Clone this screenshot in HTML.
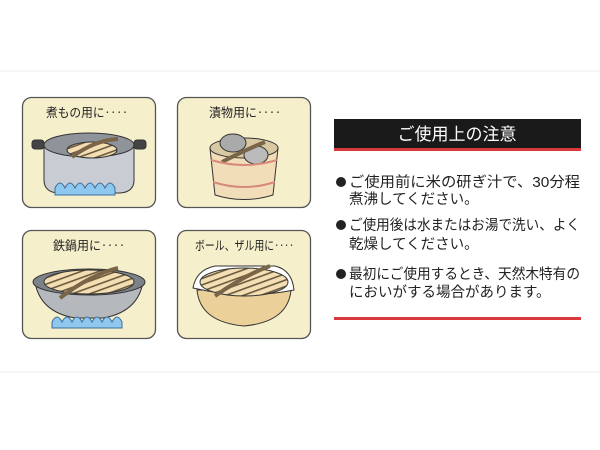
<!DOCTYPE html>
<html><head><meta charset="utf-8"><style>
body{margin:0;width:600px;height:450px;background:#fff;overflow:hidden}
svg{display:block}
text{font-family:"Liberation Sans","Noto Sans CJK JP",sans-serif}
</style></head><body>
<svg width="600" height="450" viewBox="0 0 600 450">
<defs>
<pattern id="sl" width="6" height="6" patternUnits="userSpaceOnUse" patternTransform="rotate(-20)">
<rect width="6" height="6" fill="#f3dfb3"/><rect y="0" width="6" height="1.6" fill="#6b5a3e"/></pattern>
</defs>
<line x1="0" y1="71" x2="600" y2="71" stroke="#eee" stroke-width="1"/>
<line x1="0" y1="372" x2="600" y2="372" stroke="#eee" stroke-width="1"/>
<g stroke="#555" stroke-width="1.3" fill="#f6efcc">
<rect x="22.5" y="97.5" width="133" height="110" rx="9"/>
<rect x="177.5" y="97.5" width="133" height="110" rx="9"/>
<rect x="22.5" y="230.5" width="133" height="108" rx="9"/>
<rect x="177.5" y="230.5" width="133" height="108" rx="9"/>
</g>
<g font-size="12.5" fill="#222">
<text x="46" y="117" textLength="82" lengthAdjust="spacingAndGlyphs">煮もの用に‥‥</text>
<text x="209" y="117" textLength="72" lengthAdjust="spacingAndGlyphs">漬物用に‥‥</text>
<text x="53" y="250" textLength="72" lengthAdjust="spacingAndGlyphs">鉄鍋用に‥‥</text>
<text x="195" y="250" textLength="99" lengthAdjust="spacingAndGlyphs">ボール、ザル用に‥‥</text>
</g>
<!-- pot 1 -->
<g stroke="#333" stroke-width="1">
<path d="M44 145 L44 180 Q44 192 58 193 L120 193 Q134 192 134 180 L134 145 Z" fill="#c9ccd2"/>
<ellipse cx="89" cy="145" rx="45" ry="12" fill="#8f949b"/>
<rect x="32" y="140" width="12" height="9" rx="3" fill="#444"/>
<rect x="134" y="140" width="12" height="9" rx="3" fill="#444"/>
<ellipse cx="92" cy="150" rx="25" ry="8" fill="url(#sl)"/>
<path d="M72 157 Q95 140 118 139" stroke="#7a6548" stroke-width="4" fill="none"/>
<path d="M55 188 q5 -10 10 0 q5 -10 10 0 q5 -10 10 0 q5 -10 10 0 q5 -10 10 0 q5 -10 10 0 L115 195 L55 195Z" fill="#8ec8ef" stroke="#3a6b9c"/>
</g>
<!-- tub -->
<g stroke="#333" stroke-width="1">
<path d="M210 148 L215 195 Q244 204 273 195 L278 148 Z" fill="#f1ddb8"/>
<ellipse cx="244" cy="148" rx="34" ry="10" fill="#d8c9a2"/>
<ellipse cx="233" cy="143" rx="13" ry="9" fill="#aaa"/>
<ellipse cx="256" cy="155" rx="12" ry="9" fill="#bbb"/>
<path d="M222 162 Q245 150 265 142" stroke="#7a6548" stroke-width="4" fill="none"/>
<path d="M211 160 Q244 170 277 160" stroke="#d88a7a" stroke-width="2" fill="none"/>
<path d="M213 182 Q244 192 275 182" stroke="#d88a7a" stroke-width="2" fill="none"/>
</g>
<!-- iron pot -->
<g stroke="#333" stroke-width="1">
<path d="M35 282 Q40 312 75 318 L103 318 Q138 312 143 282 Z" fill="#b5b8bd"/>
<ellipse cx="89" cy="282" rx="56" ry="13" fill="#7d8288"/>
<ellipse cx="89" cy="282" rx="45" ry="12" fill="url(#sl)"/>
<path d="M60 298 Q90 275 118 268" stroke="#7a6548" stroke-width="4" fill="none"/>
<path d="M52 322 q5 -10 10 0 q5 -10 10 0 q5 -10 10 0 q5 -10 10 0 q5 -10 10 0 q5 -10 10 0 q5 -10 10 0 L122 328 L52 328Z" fill="#8ec8ef" stroke="#3a6b9c"/>
</g>
<!-- colander -->
<g stroke="#333" stroke-width="1">
<path d="M197 290 Q200 322 244 326 Q288 322 291 290 Z" fill="#ecd09a"/>
<path d="M193 288 Q196 270 215 266 L275 266 Q292 270 294 290 Q244 300 193 288Z" fill="#fff"/>
<ellipse cx="244" cy="282" rx="44" ry="14" fill="url(#sl)"/>
<path d="M215 296 Q245 275 270 266" stroke="#7a6548" stroke-width="4" fill="none"/>
</g>
<!-- right panel -->
<rect x="334" y="119" width="247" height="29" fill="#1b1a1a"/>
<rect x="334" y="148" width="247" height="3" fill="#d9383c"/>
<text x="457" y="140" font-size="17" fill="#fff" text-anchor="middle">ご使用上の注意</text>
<g font-size="14.5" fill="#222">
<circle cx="341" cy="182" r="5" fill="#222"/>
<circle cx="341" cy="225" r="5" fill="#222"/>
<circle cx="341" cy="274" r="5" fill="#222"/>
<text x="349" y="187" textLength="231" lengthAdjust="spacingAndGlyphs">ご使用前に米の研ぎ汁で、30分程</text>
<text x="349" y="204">煮沸してください。</text>
<text x="349" y="230" textLength="231" lengthAdjust="spacingAndGlyphs">ご使用後は水またはお湯で洗い、よく</text>
<text x="349" y="249">乾燥してください。</text>
<text x="349" y="279" textLength="231" lengthAdjust="spacingAndGlyphs">最初にご使用するとき、天然木特有の</text>
<text x="349" y="297">においがする場合があります。</text>
</g>
<rect x="334" y="317" width="247" height="3" fill="#d9383c"/>
</svg>
</body></html>
